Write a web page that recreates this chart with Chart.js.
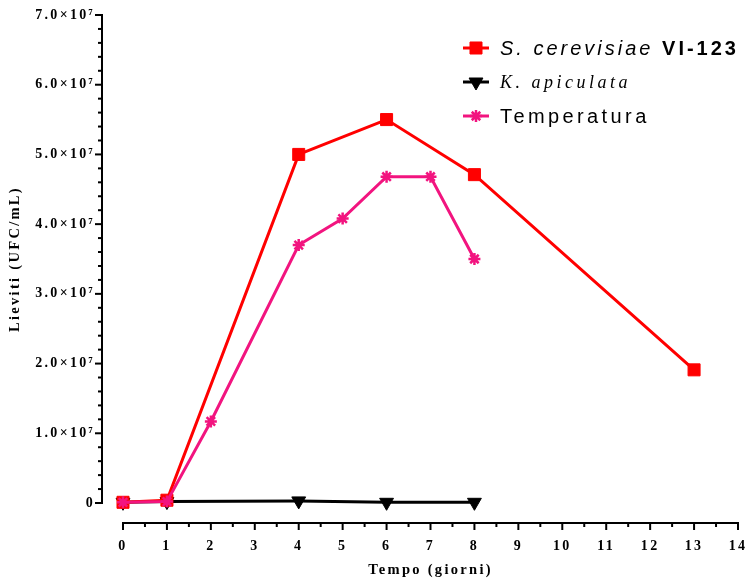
<!DOCTYPE html>
<html>
<head>
<meta charset="utf-8">
<script src="https://cdn.jsdelivr.net/npm/chart.js@4"></script>
<style>
  html, body { margin: 0; padding: 0; background: #fff; }
  #wrap { width: 748px; height: 579px; position: relative; }
</style>
</head>
<body>
<div id="wrap"><canvas id="growth-chart"></canvas></div>
<script>
// data
const xTicks = [0, 1, 2, 3, 4, 5, 6, 7, 8, 9, 10, 11, 12, 13, 14];
const yTicks = [0, 1e7, 2e7, 3e7, 4e7, 5e7, 6e7, 7e7];

const sceDays = [0, 1, 4, 6, 8, 13];
const sceValues = [1e5, 4e5, 5.0e7, 5.5e7, 4.71e7, 1.91e7];

const kapDays = [0, 1, 4, 6, 8];
const kapValues = [1e5, 2e5, 3e5, 1e5, 1e5];

const tempDays = [0, 1, 2, 4, 5, 6, 7, 8];
const tempValues = [1e5, 2e5, 1.17e7, 3.7e7, 4.08e7, 4.68e7, 4.68e7, 3.5e7];

const RED = '#FF0000';
const PINK = '#F2147F';
const BLACK = '#000000';

function toPoints(days, values) {
    return days.map((d, i) => ({ x: d, y: values[i] }));
}

// gap between the chart area and the detached (Prism style) axis lines
const GAP_X = 21;
const GAP_Y = 20;

// axis lines, major and minor ticks
const axesPlugin = {
    id: 'prismAxes',
    beforeLayout(chart) {
        chart.ctx.letterSpacing = '2.3px';
    },
    beforeDraw(chart) {
        chart.ctx.letterSpacing = '2.3px';
    },
    afterDraw(chart) {
        const ctx = chart.ctx;
        const xs = chart.scales.x;
        const ys = chart.scales.y;
        const axisX = chart.chartArea.left - GAP_X;
        const axisY = chart.chartArea.bottom + GAP_Y;
        ctx.save();
        ctx.strokeStyle = '#000';
        ctx.lineWidth = 2;
        ctx.lineCap = 'butt';

        // y axis
        const yTop = ys.getPixelForValue(yTicks[yTicks.length - 1]);
        const yBot = ys.getPixelForValue(yTicks[0]);
        ctx.beginPath();
        ctx.moveTo(axisX, yTop - 1);
        ctx.lineTo(axisX, yBot + 1);
        ctx.stroke();
        yTicks.forEach(v => {
            const p = ys.getPixelForValue(v);
            ctx.beginPath();
            ctx.moveTo(axisX, p);
            ctx.lineTo(axisX - 7, p);
            ctx.stroke();
        });
        for (let v = 0; v < yTicks[yTicks.length - 1]; v += 2e6) {
            if (v % 1e7 === 0) continue;
            const p = ys.getPixelForValue(v);
            ctx.beginPath();
            ctx.moveTo(axisX, p);
            ctx.lineTo(axisX - 4, p);
            ctx.stroke();
        }

        // x axis
        const xl = xs.getPixelForValue(xTicks[0]);
        const xr = xs.getPixelForValue(xTicks[xTicks.length - 1]);
        ctx.beginPath();
        ctx.moveTo(xl - 1, axisY);
        ctx.lineTo(xr + 1, axisY);
        ctx.stroke();
        xTicks.forEach(v => {
            const p = xs.getPixelForValue(v);
            ctx.beginPath();
            ctx.moveTo(p, axisY);
            ctx.lineTo(p, axisY + 7);
            ctx.stroke();
            if (v < xTicks[xTicks.length - 1]) {
                const m = xs.getPixelForValue(v + 0.5);
                ctx.beginPath();
                ctx.moveTo(m, axisY);
                ctx.lineTo(m, axisY + 4);
                ctx.stroke();
            }
        });
        ctx.restore();
    }
};

// legend with mixed italic / bold text
const legendRows = [
    { color: RED, style: 'rect', radius: 8.5, rotation: 0,
      parts: [['italic 20px "Liberation Sans"', 'S. cerevisiae '], ['bold 20px "Liberation Sans"', 'VI-123']], spacing: '3px', dy: 48 },
    { color: BLACK, style: 'triangle', radius: 8, rotation: 180,
      parts: [['italic 18px "Liberation Serif"', 'K. apiculata']], spacing: '3.5px', dy: 82 },
    { color: PINK, style: 'star', radius: 6, rotation: 0,
      parts: [['20px "Liberation Sans"', 'Temperatura']], spacing: '3.4px', dy: 116 }
];

const legendPlugin = {
    id: 'richLegend',
    afterDraw(chart) {
        const ctx = chart.ctx;
        const mx = 476;
        ctx.save();
        legendRows.forEach(row => {
            ctx.strokeStyle = row.color;
            ctx.lineWidth = 3;
            ctx.beginPath();
            ctx.moveTo(mx - 13, row.dy);
            ctx.lineTo(mx + 13, row.dy);
            ctx.stroke();
            ctx.fillStyle = row.color;
            ctx.strokeStyle = row.color;
            ctx.lineWidth = row.style === 'star' ? 2.5 : 1;
            Chart.helpers.drawPoint(ctx, {
                pointStyle: row.style, radius: row.radius, rotation: row.rotation, borderWidth: ctx.lineWidth
            }, mx, row.dy);
            let tx = 500;
            ctx.fillStyle = '#000';
            ctx.textBaseline = 'middle';
            ctx.textAlign = 'left';
            ctx.letterSpacing = row.spacing;
            row.parts.forEach(([font, text]) => {
                ctx.font = font;
                ctx.fillText(text, tx, row.dy + 1);
                tx += ctx.measureText(text).width;
            });
        });
        ctx.restore();
    }
};

const serif = '"Liberation Serif", "Times New Roman", serif';

const chartCanvas = document.getElementById('growth-chart').getContext('2d');

const growthChart = new Chart(chartCanvas, {
    type: 'line',
    data: {
        datasets: [
            {
                label: 'S. cerevisiae VI-123',
                data: toPoints(sceDays, sceValues),
                borderColor: RED,
                backgroundColor: RED,
                borderWidth: 3,
                pointStyle: 'rect',
                pointRadius: 8.5,
                pointBorderWidth: 1,
                pointBorderColor: RED,
                pointBackgroundColor: RED,
                order: 1,
                clip: false
            },
            {
                label: 'K. apiculata',
                data: toPoints(kapDays, kapValues),
                borderColor: BLACK,
                backgroundColor: BLACK,
                borderWidth: 3,
                pointStyle: 'triangle',
                pointRotation: 180,
                pointRadius: 8,
                pointBorderWidth: 1,
                order: 2,
                clip: false
            },
            {
                label: 'Temperatura',
                data: toPoints(tempDays, tempValues),
                borderColor: PINK,
                backgroundColor: PINK,
                borderWidth: 3,
                pointStyle: 'star',
                pointRadius: 6,
                pointBorderWidth: 2.5,
                pointBorderColor: PINK,
                order: 0,
                clip: false
            }
        ]
    },
    options: {
        responsive: true,
        maintainAspectRatio: false,
        animation: false,
        layout: {
            autoPadding: false,
            padding: { left: 0, right: 10, top: 15, bottom: 0 }
        },
        plugins: {
            legend: { display: false },
            tooltip: { enabled: false }
        },
        scales: {
            x: {
                type: 'linear',
                min: xTicks[0],
                max: xTicks[xTicks.length - 1],
                grid: { display: false, drawTicks: false },
                border: { display: false },
                afterBuildTicks: scale => { scale.ticks = xTicks.map(v => ({ value: v })); },
                afterFit: scale => {
                    scale.height = 76;
                    scale.paddingLeft = 0;
                    scale.paddingRight = 0;
                },
                ticks: {
                    autoSkip: false,
                    maxRotation: 0,
                    padding: 35,
                    color: '#000',
                    font: { family: serif, size: 14, weight: 'bold' }
                },
                title: {
                    display: true,
                    text: 'Tempo (giorni)',
                    color: '#000',
                    padding: { top: 0, bottom: 0 },
                    font: { family: serif, size: 14.5, weight: 'bold' }
                }
            },
            y: {
                min: yTicks[0],
                max: yTicks[yTicks.length - 1],
                grid: { display: false, drawTicks: false },
                border: { display: false },
                afterBuildTicks: scale => { scale.ticks = yTicks.map(v => ({ value: v })); },
                afterFit: scale => {
                    scale.width = 123;
                    scale.paddingTop = 0;
                    scale.paddingBottom = 0;
                },
                ticks: {
                    padding: 28,
                    color: '#000',
                    font: { family: serif, size: 14, weight: 'bold' },
                    callback: v => v === 0 ? '0' : (v / 1e7).toFixed(1) + '×10⁷'
                },
                title: {
                    display: true,
                    text: 'Lieviti (UFC/mL)',
                    color: '#000',
                    padding: { top: 7, bottom: 0 },
                    font: { family: serif, size: 14.5, weight: 'bold' }
                }
            }
        }
    },
    plugins: [axesPlugin, legendPlugin]
});
</script>
</body>
</html>
